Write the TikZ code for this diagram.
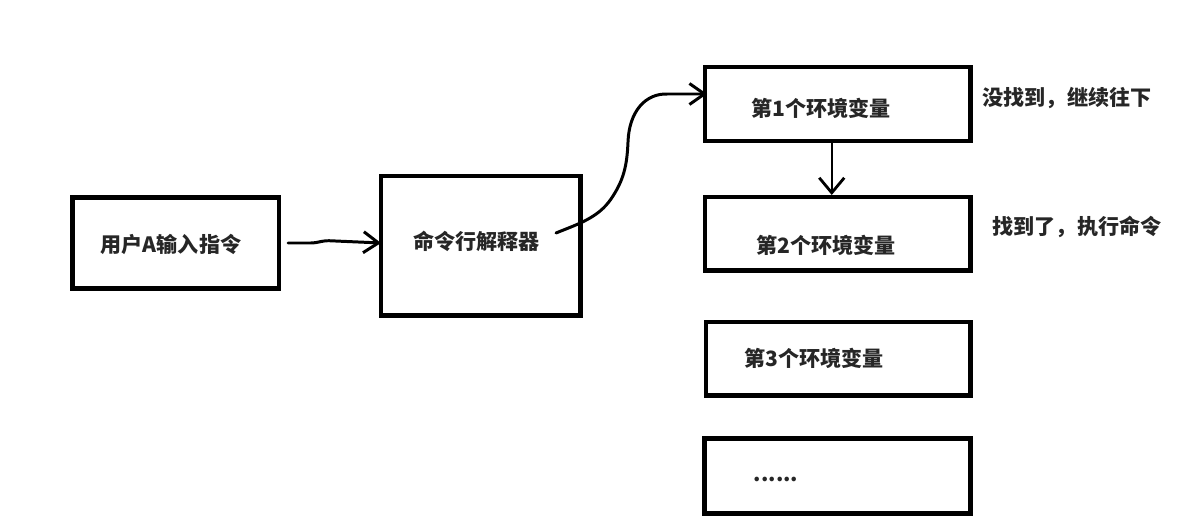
\documentclass[tikz,border=0pt]{standalone}
\usepackage{fontspec}
\newfontfamily\cjkfont{Noto Sans CJK SC}
\usepackage{tikz}
\usetikzlibrary{positioning, arrows.meta, calc}
\definecolor{inkgray}{RGB}{38, 38, 38}

\begin{document}
\begin{tikzpicture}[x=0.02cm, y=-0.02cm,
    every node/.style={align=center, font=\cjkfont\bfseries\fontsize{12}{14}\selectfont, text=inkgray},
    box/.style={draw=black, line width=2.8pt, inner sep=0pt, outer sep=0pt},
    flow/.style={line width=1.7pt, line cap=round, line join=round,
                 -{Straight Barb[length=0.3cm, width=0.42cm, line width=1.7pt]}}]
    \useasboundingbox (0,0) rectangle (1196,530);

    % boxes
    \node[box, minimum width=4.13cm, minimum height=1.82cm] (user) at (175.75, 243) {};
    \node[box, minimum width=3.99cm, minimum height=2.79cm] (shell) at (480.75, 245.75) {};
    \node[box, minimum width=5.31cm, minimum height=1.48cm] (env1) at (837.75, 104) {};
    \node[box, minimum width=5.31cm, minimum height=1.47cm] (env2) at (837.75, 233.75) {};
    \node[box, minimum width=5.29cm, minimum height=1.47cm] (env3) at (838.25, 358.75) {};
    \node[box, minimum width=5.32cm, minimum height=1.50cm] (env4) at (837.5, 476) {};

    % texts
    \node (usertext)  at (171, 244)   {用户A输入指令};
    \node (shelltext) at (476.5, 241) {命令行解释器};
    \node (env1text)  at (821, 108)   {第1个环境变量};
    \node (env2text)  at (826, 245)   {第2个环境变量};
    \node (env3text)  at (814, 358)   {第3个环境变量};
    \node (env4text)  at (776, 479)   {......};
    \node (miss)  at (1067, 98)  {没找到，继续往下};
    \node (found) at (1077, 227) {找到了，执行命令};

    % connectors
    \coordinate (ustart) at (288, 243);
    \draw[flow, rounded corners=3pt] (ustart) -- (316, 243) -- (324, 240.5) -- (shell.west |- ustart);

    \coordinate (sstart) at (556, 233);
    \draw[flow] (sstart) .. controls (578, 224) and (598, 218) .. (611, 199)
                .. controls (624, 180) and (627, 165) .. (628, 142)
                .. controls (629, 112) and (645, 93) .. (668, 94)
                -- ($(env1.west)+(2,-10)$);

    \draw[line width=1.1pt, -{Straight Barb[length=0.3cm, width=0.5cm, line width=1.6pt]}]
        ($(env1.south)+(-6,0)$) -- ($(env2.north)+(-6,-2)$);
\end{tikzpicture}
\end{document}
